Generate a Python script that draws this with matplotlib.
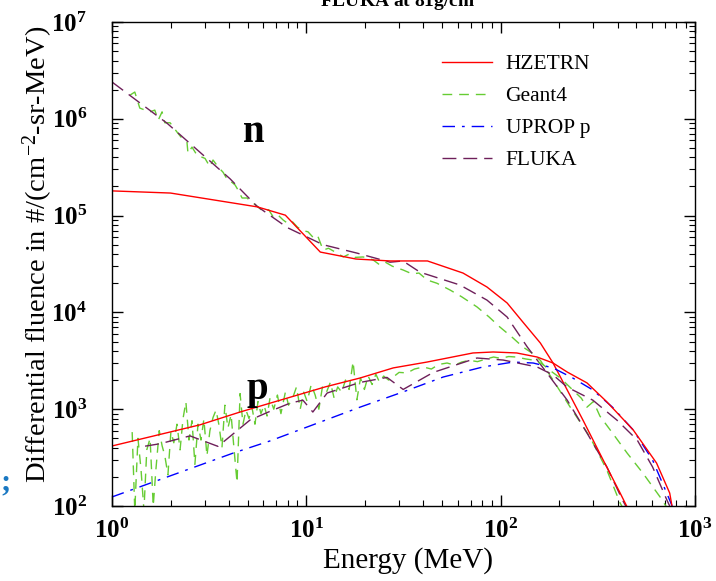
import matplotlib
matplotlib.use("Agg")
import matplotlib.pyplot as plt
from matplotlib.lines import Line2D
from matplotlib.ticker import LogLocator, NullFormatter, FuncFormatter
import numpy as np

plt.rcParams['font.family'] = ['Liberation Serif', 'DejaVu Serif']
plt.rcParams['mathtext.fontset'] = 'custom'
plt.rcParams['mathtext.rm'] = 'Liberation Serif'
plt.rcParams['mathtext.it'] = 'Liberation Serif:italic'
plt.rcParams['mathtext.bf'] = 'Liberation Serif:bold'

# ---- data ----
# HZETRN neutrons / protons
hz_n_E = [1, 2, 5.6, 7.8, 11.8, 18, 27, 42, 64, 85, 108, 130, 160, 186, 220, 265, 337, 412, 447]
hz_n_F = [1.8e5, 1.71e5, 1.23e5, 1.01e5, 4.2e4, 3.56e4, 3.4e4, 3.4e4, 2.55e4, 1.83e4,
          1.25e4, 7.96e3, 4.83e3, 3.0e3, 1.58e3, 773, 298, 136, 98]
hz_p_E = [1, 2.84, 4.56, 12.5, 18.9, 28, 41.8, 72, 91.5, 121, 154, 186, 220, 278, 352, 481, 634, 741, 760]
hz_p_F = [417, 690, 935, 1700, 2100, 2670, 3070, 3810, 3900, 3810, 3460, 3000, 2420, 1870,
          1190, 610, 278, 136, 102]

# UPROP protons
up_p_E = [1, 4.2, 6.5, 18.9, 31.5, 50.6, 81, 116, 147, 186, 235, 298, 376, 481, 605, 741, 770]
up_p_F = [124, 352, 470, 1050, 1510, 2150, 2730, 3070, 3000, 2670, 2100, 1580, 1050, 610, 298, 115, 95]

# FLUKA neutrons / protons
fl_n_E = [1, 1.92, 4.05, 5.57, 8, 12.2, 18.2, 27, 31.4, 38.5, 61.7, 85, 108, 137, 173, 220, 278, 352, 424, 460]
fl_n_F = [2.4e6, 9.0e5, 2.4e5, 1.25e5, 7.5e4, 5.0e4, 4.1e4, 3.3e4, 3.4e4, 2.6e4, 1.92e4, 1.34e4,
          8.95e3, 4.4e3, 2.37e3, 1.24e3, 568, 253, 115, 85]
fl_p_E = [1.48, 1.77, 2.52, 3.51, 5.13, 6.5, 8.2, 9.6, 10.8, 12.8, 18.9, 26, 31.5, 45, 75.5, 103,
          154, 186, 220, 298, 396, 504, 605, 717, 770]
fl_p_F = [415, 440, 530, 413, 773, 950, 1150, 1240, 935, 1470, 1890, 2130, 1600, 2400, 3380, 3220,
          2730, 2260, 1690, 1240, 773, 481, 253, 115, 85]

# Geant4 neutrons / protons (noisy)
g4_n_E = [1.24, 1.31, 1.39, 1.48, 1.57, 1.66, 1.73, 1.81, 1.87, 1.99, 2.16, 2.29, 2.43, 2.46, 2.58,
          2.74, 3.01, 3.19, 3.31, 3.51, 3.73, 3.95, 4.15, 4.30, 4.45, 4.67, 4.95, 5.32, 5.64, 6.0,
          6.4, 6.8, 7.2, 7.6, 8.1, 8.5, 9.0, 9.6, 10.2, 10.8, 11.4, 12.2, 13.0, 14.4, 15.5, 16.6,
          17.8, 19.6, 21, 22, 23.9, 25.5, 27.7, 31.5, 35, 38, 41.9, 47, 55, 63, 75.5, 87, 99, 115,
          130, 145, 160, 186, 228, 288, 352, 412, 440]
g4_n_F = [1.76e6, 1.89e6, 1.29e6, 1.23e6, 1.18e6, 1.23e6, 9.7e5, 1.18e6, 9.1e5, 9.1e5, 7.3e5, 6.3e5,
          5.8e5, 4.4e5, 5.1e5, 4.2e5, 3.9e5, 3.2e5, 3.75e5, 3.2e5, 2.8e5, 2.3e5, 2.2e5, 2.07e5,
          1.84e5, 1.52e5, 1.52e5, 1.35e5, 1.23e5, 1.1e5, 1.15e5, 9.5e4, 1.0e5, 9.0e4, 8.2e4, 8.6e4,
          7.6e4, 7.0e4, 6.8e4, 6.0e4, 6.3e4, 4.4e4, 4.6e4, 4.1e4, 3.74e4, 4.0e4, 3.7e4, 3.74e4,
          3.6e4, 3.5e4, 3.09e4, 3.3e4, 3.0e4, 2.74e4, 2.5e4, 2.55e4, 2.16e4, 2.0e4, 1.7e4, 1.45e4,
          1.14e4, 9.0e3, 7.07e3, 5.5e3, 4.4e3, 3.8e3, 3.2e3, 2.0e3, 1.05e3, 517, 235, 107, 85]
g4_p_E = [1.27, 1.31, 1.36, 1.41, 1.46, 1.51, 1.57, 1.63, 1.68, 1.75, 1.81, 1.87, 1.94, 2.01, 2.08,
          2.16, 2.24, 2.32, 2.40, 2.49, 2.58, 2.67, 2.77, 2.87, 2.97, 3.08, 3.19, 3.31, 3.43, 3.55,
          3.68, 3.81, 3.95, 4.10, 4.24, 4.40, 4.56, 4.72, 4.89, 5.07, 5.25, 5.44, 5.64, 5.84, 6.06,
          6.28, 6.5, 6.8, 7.1, 7.4, 7.8, 8.1, 8.5, 8.9, 9.3, 9.7, 10.1, 10.6, 11.1, 11.6, 12.1,
          12.7, 13.3, 13.9, 14.5, 15.2, 15.9, 16.6, 17.4, 18.2, 19.0, 19.9, 20.8, 21.8, 22.8, 23.8,
          25, 26.5, 28, 30, 33, 36, 40, 44, 48, 53, 58, 63, 69, 76, 84, 92, 100, 110, 120, 135, 150,
          165, 180, 203, 235, 260, 278, 300, 324, 376, 447, 539, 661, 720]
g4_p_F = [580, 90, 500, 240, 90, 380, 500, 100, 230, 600, 420, 330, 210, 590, 450, 700, 380, 800,
          1190, 480, 760, 270, 700, 480, 790, 330, 600, 820, 980, 690, 400, 1100, 640, 880, 400,
          175, 1450, 700, 980, 800, 1050, 700, 1200, 900, 1100, 850, 1300, 1000, 1400, 900, 1500,
          1100, 1300, 1700, 1000, 1500, 1200, 1800, 1400, 1000, 1700, 1500, 1900, 1300, 1700, 1500,
          2000, 1600, 3100, 1250, 2100, 1600, 2200, 1800, 2300, 1900, 2200, 2000, 2150, 2400, 2370,
          2600, 2730, 2600, 2900, 3000, 2850, 3070, 3200, 3100, 3300, 3460, 3350, 3500, 3460, 3300,
          3200, 2900, 2500, 2100, 1580, 1300, 1050, 1200, 850, 568, 353, 219, 124, 95]

c_hz = '#ff0000'
c_g4 = '#66cc33'
c_up = '#0000ff'
c_fl = '#6e1f5a'

fig = plt.figure(figsize=(7.16, 5.81), dpi=100)
ax = fig.add_axes([112 / 716, 1 - 506 / 581, 583 / 716, 484 / 581])

ls_g4 = (0, (7, 5))
ls_fl = (0, (10, 5))
ls_up = (0, (9, 5, 2, 5))

# neutrons
ax.plot(g4_n_E, g4_n_F, color=c_g4, lw=1, ls=ls_g4)
ax.plot(fl_n_E, fl_n_F, color=c_fl, lw=1, ls=ls_fl)
ax.plot(hz_n_E, hz_n_F, color=c_hz, lw=1)
# protons
ax.plot(g4_p_E, g4_p_F, color=c_g4, lw=1, ls=ls_g4)
ax.plot(up_p_E, up_p_F, color=c_up, lw=1, ls=ls_up)
ax.plot(fl_p_E, fl_p_F, color=c_fl, lw=1, ls=ls_fl)
ax.plot(hz_p_E, hz_p_F, color=c_hz, lw=1)

ax.set_xscale('log')
ax.set_yscale('log')
ax.set_xlim(1, 1000)
ax.set_ylim(100, 1e7)
decade_fmt = FuncFormatter(lambda v, pos: r"$\mathbf{10^{%d}}$" % int(round(np.log10(v))))
ax.xaxis.set_major_formatter(decade_fmt)
ax.yaxis.set_major_formatter(decade_fmt)
ax.xaxis.set_minor_locator(LogLocator(base=10, subs=range(2, 10)))
ax.yaxis.set_minor_locator(LogLocator(base=10, subs=range(2, 10)))
ax.xaxis.set_minor_formatter(NullFormatter())
ax.yaxis.set_minor_formatter(NullFormatter())
ax.tick_params(which='both', direction='in', top=True, right=True, labelsize=18)
ax.tick_params(which='major', length=8, width=1)
ax.tick_params(which='minor', length=4, width=0.8)
ax.tick_params(axis='x', pad=9)
ax.tick_params(axis='y', pad=18)
for s in ax.spines.values():
    s.set_linewidth(1)

ax.set_xlabel("Energy (MeV)", fontsize=21)
ax.xaxis.set_label_coords((408 - 112) / 583, -0.085)
ax.set_ylabel("Differential fluence in #/(cm$^{-2}$-sr-MeV)", fontsize=20.5)
ax.yaxis.set_label_coords(-0.098, 1 - (254 - 22) / 484)

ax.text(5.38, 5.8e5, "n", fontsize=28, fontweight='bold', ha='center', va='baseline')
ax.text(5.57, 1.27e3, "p", fontsize=28, fontweight='bold', ha='center', va='baseline')

handles = [Line2D([], [], color=c_hz, lw=1),
           Line2D([], [], color=c_g4, lw=1, ls=ls_g4),
           Line2D([], [], color=c_up, lw=1, ls=ls_up),
           Line2D([], [], color=c_fl, lw=1, ls=ls_fl)]
ax.legend(handles, ["HZETRN", "Geant4", "UPROP p", "FLUKA"], loc='upper left',
          bbox_to_anchor=((442 - 112) / 583, 1 - (54 - 22) / 484), frameon=False,
          fontsize=15.5, handlelength=2.3, handletextpad=0.65, labelspacing=0.56,
          borderpad=0, borderaxespad=0)

fig.text(401 / 716, 1 - 7 / 581, "FLUKA at 81g/cm$^2$", fontsize=14, fontweight='bold',
         ha='center', va='baseline')
fig.text(6 / 716, 1 - 490 / 581, ";", fontsize=22, fontweight='bold', color='#1a78c2',
         ha='center', va='baseline')

fig.savefig("out.png", dpi=100)
